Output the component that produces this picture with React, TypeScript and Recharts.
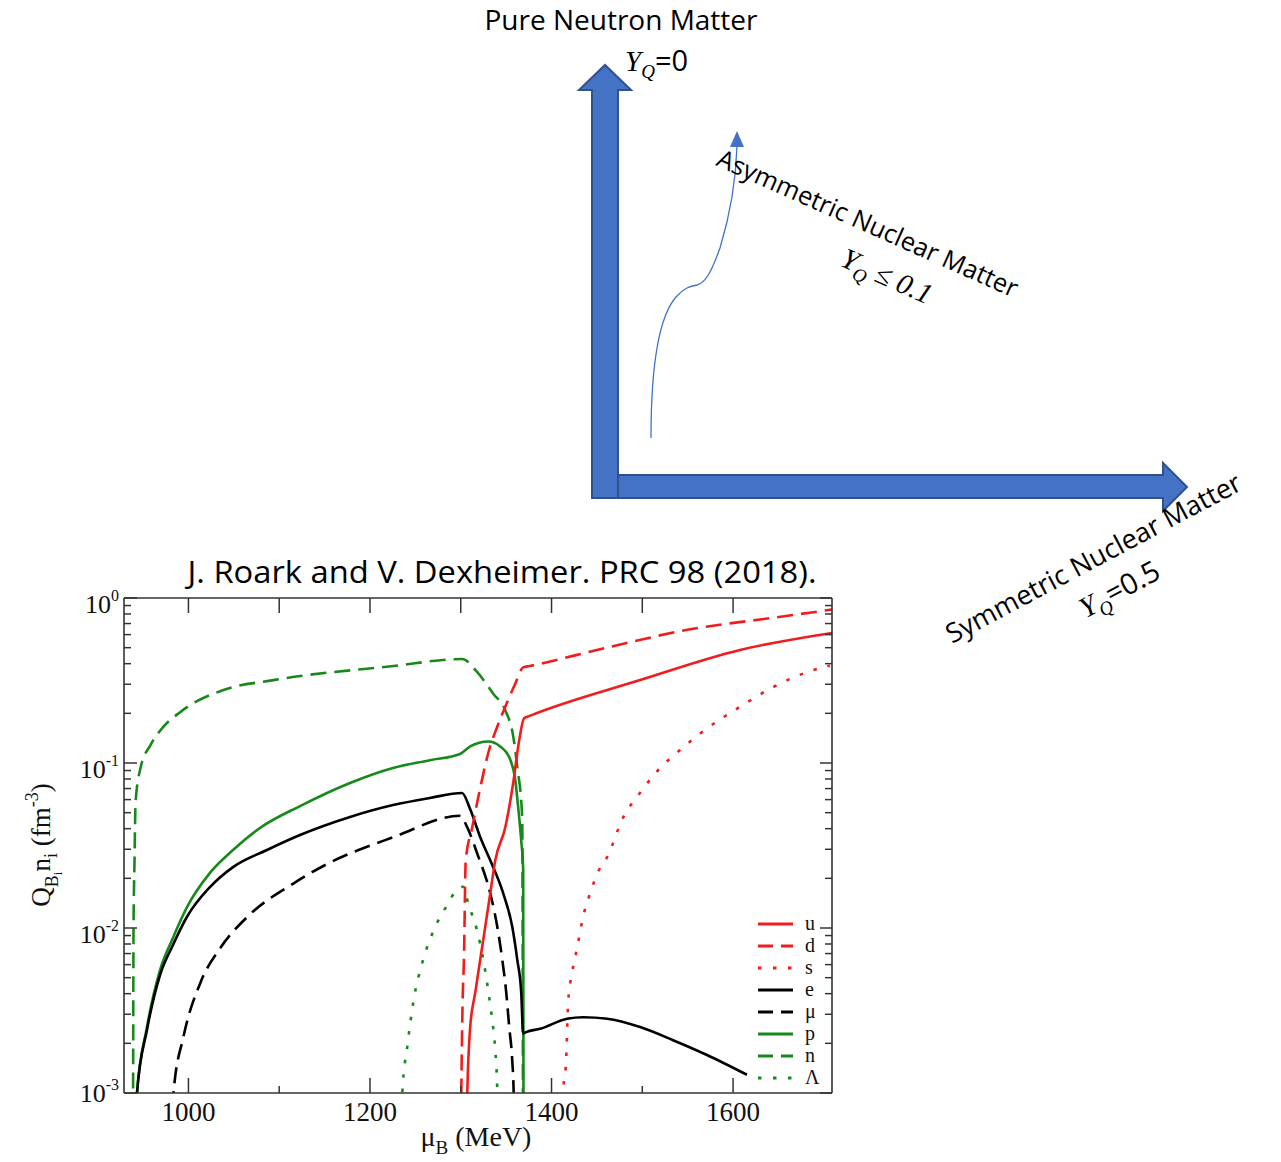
import React from 'react';
import { LineChart, Line, XAxis, YAxis, Legend } from 'recharts';

// [mu_B (MeV), Q_Bi n_i (fm^-3)]
const U_CURVE: [number, number][] = [
  [1306.1, 0.0005], [1307.2, 0.001], [1310.4, 0.00251], [1316.0, 0.00407], [1321.5, 0.00646],
  [1327.0, 0.0102], [1332.5, 0.0162], [1338.0, 0.0257], [1349.0, 0.0407], [1357.8, 0.0759],
  [1363.3, 0.126], [1369.9, 0.187], [1376.0, 0.193], [1497.6, 0.318], [1607.6, 0.484], [1709.0, 0.614],
];
const D_CURVE: [number, number][] = [
  [1300.0, 0.0005], [1300.6, 0.001], [1302.0, 0.0035], [1303.5, 0.00646], [1305.5, 0.0257],
  [1312.6, 0.0407], [1321.5, 0.0708], [1330.3, 0.115], [1340.2, 0.166], [1351.2, 0.234],
  [1360.0, 0.302], [1368.8, 0.38], [1376.0, 0.387], [1461.3, 0.501], [1552.6, 0.646],
  [1643.9, 0.759], [1709.0, 0.851],
];
const S_CURVE: [number, number][] = [
  [1411.7, 0.0005], [1412.8, 0.001], [1416.1, 0.00158], [1418.3, 0.00355], [1422.7, 0.00537],
  [1428.2, 0.00759], [1434.8, 0.0117], [1442.5, 0.0162], [1451.3, 0.0219], [1461.3, 0.0269],
  [1478.9, 0.0468], [1497.6, 0.0661], [1516.3, 0.0891], [1541.6, 0.12], [1571.3, 0.162],
  [1607.6, 0.219], [1643.9, 0.288], [1681.4, 0.355], [1706.7, 0.389],
];
const E_CURVE: [number, number][] = [
  [942.8, 0.0003], [943.3, 0.001], [954.3, 0.00241], [968.7, 0.00519], [981.9, 0.00767],
  [998.4, 0.0117], [1023.7, 0.0177], [1049.1, 0.0234], [1086.5, 0.0297], [1122.9, 0.0366],
  [1178.0, 0.0471], [1225.4, 0.0556], [1266.1, 0.0614], [1301.4, 0.0658], [1310.4, 0.0525],
  [1321.5, 0.0355], [1332.5, 0.0257], [1346.8, 0.0162], [1356.7, 0.0102], [1362.2, 0.00646],
  [1366.6, 0.00407], [1368.8, 0.00229], [1372.0, 0.00234], [1387.5, 0.00245], [1417.2, 0.00282],
  [1434.8, 0.00288], [1461.3, 0.00282], [1497.6, 0.00251], [1533.9, 0.00209], [1571.3, 0.0017],
  [1615.3, 0.00129],
];
const MU_CURVE: [number, number][] = [
  [982.5, 0.0003], [983.5, 0.001], [994.5, 0.00219], [1013.3, 0.00468], [1035.3, 0.00759],
  [1065.0, 0.0117], [1115.6, 0.0186], [1152.6, 0.0244], [1225.7, 0.0355], [1299.4, 0.0479],
  [1307.2, 0.0407], [1318.2, 0.0282], [1332.5, 0.0162], [1340.2, 0.0102], [1345.7, 0.00646],
  [1350.1, 0.00407], [1353.4, 0.00251], [1356.7, 0.00158], [1358.3, 0.001], [1359.5, 0.0003],
];
const P_CURVE: [number, number][] = [
  [942.8, 0.0003], [943.3, 0.001], [954.3, 0.00251], [968.7, 0.00556], [981.9, 0.00846],
  [998.4, 0.0134], [1023.7, 0.0216], [1049.1, 0.0297], [1078.8, 0.0404], [1122.9, 0.0548],
  [1178.0, 0.0757], [1225.4, 0.0933], [1266.1, 0.104], [1299.2, 0.1135], [1310.4, 0.126],
  [1330.3, 0.135], [1343.5, 0.126], [1354.5, 0.105], [1360.0, 0.0794], [1363.3, 0.0537],
  [1366.6, 0.0339], [1368.8, 0.0224], [1369.3, 0.0001],
];
const N_CURVE: [number, number][] = [
  [938.0, 0.0002], [939.0, 0.001], [939.5, 0.01], [940.6, 0.0257], [941.7, 0.0575],
  [947.2, 0.0933], [958.2, 0.1285], [969.2, 0.158], [991.2, 0.204], [1038.6, 0.277],
  [1093.6, 0.318], [1225.7, 0.387], [1301.6, 0.427], [1318.2, 0.355], [1335.8, 0.263],
  [1349.0, 0.209], [1357.8, 0.145], [1362.2, 0.0955], [1367.7, 0.0468], [1368.8, 0.0001],
];
const LAMBDA_CURVE: [number, number][] = [
  [1234.5, 0.0003], [1235.6, 0.001], [1241.1, 0.00191], [1247.7, 0.00355], [1258.7, 0.00646],
  [1269.7, 0.00955], [1285.1, 0.0138], [1293.9, 0.0166], [1302.7, 0.0178], [1308.2, 0.0141],
  [1318.2, 0.00955], [1324.8, 0.00646], [1330.3, 0.00417], [1334.7, 0.00275], [1338.0, 0.00182],
  [1340.2, 0.00105], [1341.3, 0.0003],
];

const X_DOMAIN: [number, number] = [929, 1709];
const X_TICKS = [1000, 1100, 1200, 1300, 1400, 1500, 1600];
const X_LABELED = [1000, 1200, 1400, 1600];
const Y_DOMAIN: [number, number] = [0.001, 1];
const Y_TICKS = [
  0.001, 0.002, 0.003, 0.004, 0.005, 0.006, 0.007, 0.008, 0.009,
  0.01, 0.02, 0.03, 0.04, 0.05, 0.06, 0.07, 0.08, 0.09,
  0.1, 0.2, 0.3, 0.4, 0.5, 0.6, 0.7, 0.8, 0.9, 1,
];

const RED = '#f41b1b';
const BLACK = '#000000';
const GREEN = '#17891b';
const AXIS = '#333333';
const SERIF = '"Liberation Serif", "Times New Roman", serif';
const SANS = '"Open Sans", "Noto Sans", sans-serif';
const DASH = '16 8';
const DOT = '3.5 11';

const SERIES = [
  { key: 'n', name: 'n', data: N_CURVE, color: GREEN, dash: DASH, legendDash: '15 8' },
  { key: 'p', name: 'p', data: P_CURVE, color: GREEN, dash: undefined, legendDash: undefined },
  { key: 'lambda', name: 'Λ', data: LAMBDA_CURVE, color: GREEN, dash: DOT, legendDash: '3.5 11.5' },
  { key: 'e', name: 'e', data: E_CURVE, color: BLACK, dash: undefined, legendDash: undefined },
  { key: 'mu', name: 'μ', data: MU_CURVE, color: BLACK, dash: DASH, legendDash: '15 8' },
  { key: 'u', name: 'u', data: U_CURVE, color: RED, dash: undefined, legendDash: undefined },
  { key: 'd', name: 'd', data: D_CURVE, color: RED, dash: DASH, legendDash: '15 8' },
  { key: 's', name: 's', data: S_CURVE, color: RED, dash: DOT, legendDash: '3.5 11.5' },
];
const LEGEND_ORDER = ['u', 'd', 's', 'e', 'mu', 'p', 'n', 'lambda'];

const toPoints = (arr: [number, number][]) => arr.map(([x, y]) => ({ x, y }));

const isDecade = (v: number) => Math.abs(Math.log10(v) - Math.round(Math.log10(v))) < 1e-6;

const LeftTick = ({ x, y, payload }: any) => {
  const v = payload.value as number;
  const major = isDecade(v);
  const exp = Math.round(Math.log10(v));
  return (
    <g>
      <line x1={x} y1={y} x2={x + (major ? 13 : 7)} y2={y} stroke={AXIS} strokeWidth={1.5} />
      {major && (
        <text x={x - 5} y={y + (exp === -3 ? 9 : 15)} textAnchor="end" fontFamily={SERIF} fontSize={26} fill="#111">
          10<tspan fontSize={16} dy={-12}>{String(exp)}</tspan>
        </text>
      )}
    </g>
  );
};

const RightTick = ({ x, y, payload }: any) => {
  const major = isDecade(payload.value);
  return <line x1={x} y1={y} x2={x - (major ? 12 : 7)} y2={y} stroke={AXIS} strokeWidth={1.5} />;
};

const BottomTick = ({ x, y, payload }: any) => {
  const major = X_LABELED.includes(payload.value);
  return (
    <g>
      <line x1={x} y1={y} x2={x} y2={y - (major ? 15 : 7)} stroke={AXIS} strokeWidth={1.5} />
      {major && (
        <text x={x} y={y + 28} textAnchor="middle" fontFamily={SERIF} fontSize={27} fill="#111">
          {payload.value}
        </text>
      )}
    </g>
  );
};

const TopTick = ({ x, y }: any) => (
  <line x1={x} y1={y} x2={x} y2={y + 15} stroke={AXIS} strokeWidth={1.5} />
);

const LegendBox = () => (
  <svg width={90} height={180}>
    {LEGEND_ORDER.map((k, i) => {
      const s = SERIES.find((d) => d.key === k)!;
      const cy = 12 + 22 * i;
      return (
        <g key={k}>
          <line x1={8} x2={43} y1={cy} y2={cy} stroke={s.color} strokeWidth={3} strokeDasharray={s.legendDash} />
          <text x={55} y={cy + 6} fontFamily={SERIF} fontSize={20} fill="#111">{s.name}</text>
        </g>
      );
    })}
  </svg>
);

// schematic above the plot: Y_Q axes of nuclear matter
const Diagram = () => (
  <svg width={1281} height={1162} style={{ position: 'absolute', left: 0, top: 0, pointerEvents: 'none' }}>
    <polygon points="618,475 1163,475 1163,463 1187,487 1163,511 1163,498 618,498" fill="#4472C4" stroke="#2F528F" strokeWidth={2} />
    <polygon points="592,498 592,90 579,90 605,65 631,90 618,90 618,498" fill="#4472C4" stroke="#2F528F" strokeWidth={2} />
    <path d="M651,438 C651,380 656,320 676,297 C684,288 690,286 697,285 C706,283 712,270 720,248 C730,215 736,180 737,146" fill="none" stroke="#4472C4" strokeWidth={1.3} />
    <polygon points="737,131 730,147 744,147" fill="#4472C4" />

    <text x={621} y={30} textAnchor="middle" fontFamily={SANS} fontSize={28} fill="#000">Pure Neutron Matter</text>
    <text x={625} y={71} fontFamily={SERIF} fontSize={29} fill="#000">
      <tspan fontStyle="italic">Y</tspan>
      <tspan fontStyle="italic" fontSize={19} dy={7}>Q</tspan>
      <tspan fontFamily={SANS} dy={-7}>=0</tspan>
    </text>

    <text x={715} y={165} transform="rotate(24 715 165)" fontFamily={SANS} fontSize={25.5} fill="#000">Asymmetric Nuclear Matter</text>
    <text x={883} y={285} transform="rotate(24 883 285)" textAnchor="middle" fontFamily={SERIF} fontStyle="italic" fontSize={29} fill="#000">
      Y<tspan fontSize={19} dy={7}>Q</tspan><tspan dy={-7}> ≤ 0.1</tspan>
    </text>

    <text x={952} y={644} transform="rotate(-28 952 644)" fontFamily={SANS} fontSize={27} fill="#000">Symmetric Nuclear Matter</text>
    <text x={1124} y={598} transform="rotate(-28 1124 598)" textAnchor="middle" fontFamily={SERIF} fontSize={29} fill="#000">
      <tspan fontStyle="italic">Y</tspan>
      <tspan fontStyle="italic" fontSize={19} dy={7}>Q</tspan>
      <tspan fontFamily={SANS} dy={-7}>=0.5</tspan>
    </text>

    <text x={502} y={583} textAnchor="middle" fontFamily={SANS} fontSize={31} textLength={629} lengthAdjust="spacingAndGlyphs" fill="#000">
      J. Roark and V. Dexheimer. PRC 98 (2018).
    </text>

    <text x={476} y={1146} textAnchor="middle" fontFamily={SERIF} fontSize={28} fill="#111">
      μ<tspan fontSize={19} dy={8}>B</tspan><tspan dy={-8}> (MeV)</tspan>
    </text>
    <text x={50} y={845} transform="rotate(-90 50 845)" textAnchor="middle" fontFamily={SERIF} fontSize={27} fill="#111">
      Q<tspan fontSize={18} dy={8}>B</tspan><tspan fontSize={13} dy={4}>i</tspan>
      <tspan dy={-12}>n</tspan><tspan fontSize={18} dy={7}>i</tspan>
      <tspan dy={-7}> (fm</tspan><tspan fontSize={18} dy={-12}>-3</tspan><tspan dy={12}>)</tspan>
    </text>
  </svg>
);

export default function App() {
  return (
    <div style={{ position: 'absolute', left: 0, top: 0, width: 1281, height: 1162, background: '#fff' }}>
      <LineChart width={1281} height={1162} margin={{ top: 597, right: 448, bottom: 19, left: 64 }}>
        <XAxis
          xAxisId="b"
          dataKey="x"
          type="number"
          domain={X_DOMAIN}
          allowDataOverflow
          ticks={X_TICKS}
          interval={0}
          tickSize={0}
          tickMargin={0}
          height={50}
          tickLine={false}
          axisLine={{ stroke: AXIS, strokeWidth: 1.6 }}
          tick={(p: any) => <BottomTick {...p} />}
        />
        <XAxis
          xAxisId="t"
          orientation="top"
          dataKey="x"
          type="number"
          domain={X_DOMAIN}
          allowDataOverflow
          ticks={X_TICKS}
          interval={0}
          tickSize={0}
          tickMargin={0}
          height={1}
          tickLine={false}
          axisLine={{ stroke: AXIS, strokeWidth: 1.6 }}
          tick={(p: any) => <TopTick {...p} />}
        />
        <YAxis
          yAxisId="l"
          scale="log"
          domain={Y_DOMAIN}
          allowDataOverflow
          ticks={Y_TICKS}
          interval={0}
          tickSize={0}
          tickMargin={0}
          width={60}
          tickLine={false}
          axisLine={{ stroke: AXIS, strokeWidth: 1.6 }}
          tick={(p: any) => <LeftTick {...p} />}
        />
        <YAxis
          yAxisId="r"
          orientation="right"
          scale="log"
          domain={Y_DOMAIN}
          allowDataOverflow
          ticks={Y_TICKS}
          interval={0}
          tickSize={0}
          tickMargin={0}
          width={1}
          tickLine={false}
          axisLine={{ stroke: AXIS, strokeWidth: 1.6 }}
          tick={(p: any) => <RightTick {...p} />}
        />
        {SERIES.map((s) => (
          <Line
            key={s.key}
            xAxisId="b"
            yAxisId="l"
            data={toPoints(s.data)}
            dataKey="y"
            name={s.name}
            type="monotone"
            stroke={s.color}
            strokeWidth={2.6}
            strokeDasharray={s.dash}
            dot={false}
            activeDot={false}
            isAnimationActive={false}
          />
        ))}
        <Legend
          layout="horizontal"
          verticalAlign="middle"
          align="center"
          content={() => <LegendBox />}
          wrapperStyle={{ left: 750, top: 912, width: 90, height: 180 }}
        />
      </LineChart>
      <Diagram />
    </div>
  );
}
